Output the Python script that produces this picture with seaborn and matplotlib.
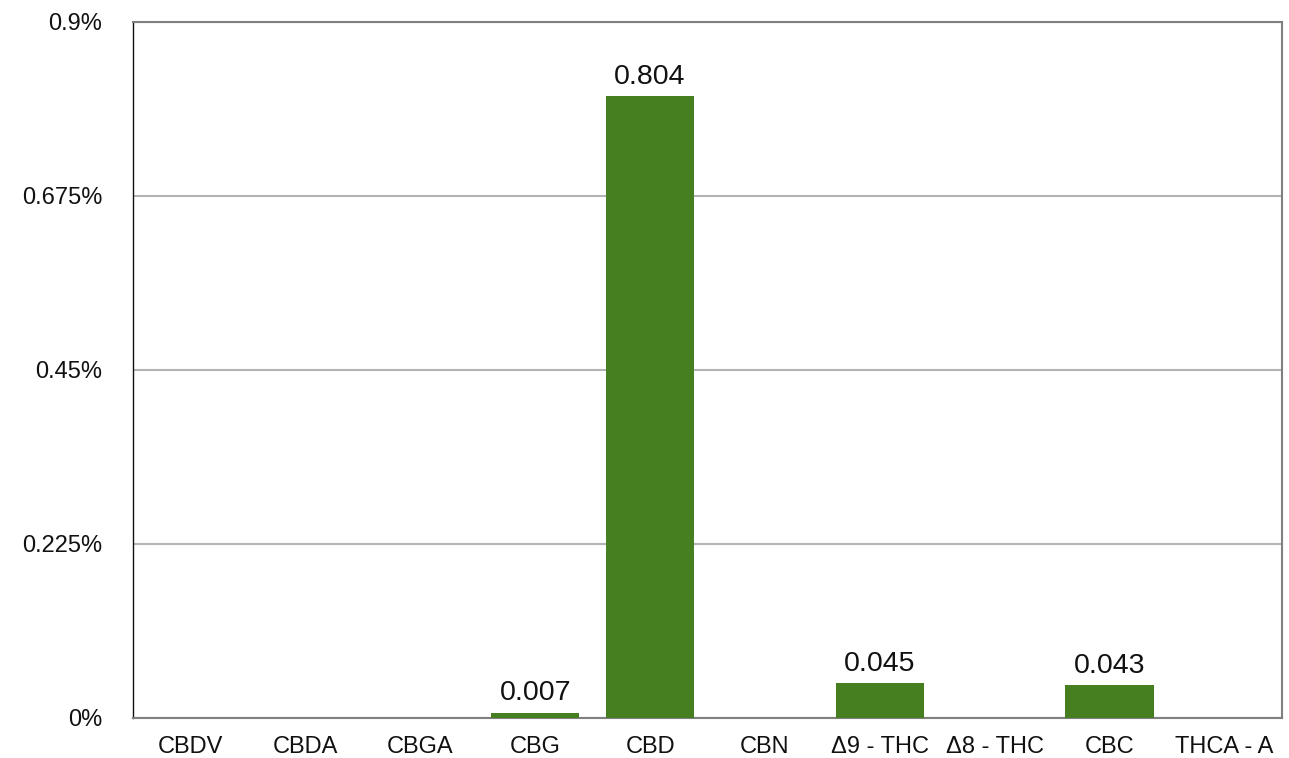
import pandas as pd
import numpy as np
import matplotlib
matplotlib.use("Agg")
import matplotlib.pyplot as plt
import seaborn as sns

compounds = ["CBDV", "CBDA", "CBGA", "CBG", "CBD", "CBN", "Δ9 - THC", "Δ8 - THC", "CBC", "THCA - A"]
percent = [0, 0, 0, 0.007, 0.804, 0, 0.045, 0, 0.043, 0]
yticks = [0, 0.225, 0.45, 0.675, 0.9]
ytick_labels = ["0%", "0.225%", "0.45%", "0.675%", "0.9%"]

df = pd.DataFrame({"compound": compounds, "percent": percent})

sns.set_theme(style="white")
plt.rcParams["font.family"] = ["Liberation Sans", "DejaVu Sans"]

fig = plt.figure(figsize=(12.89, 7.58), dpi=100)
ax = fig.add_axes([0.1032, 0.0528, 0.8914, 0.9182])

sns.barplot(data=df, x="compound", y="percent", color="#467f1f", saturation=1,
            width=0.77, linewidth=0, ax=ax, zorder=3)

ax.set_ylim(0, 0.9)
ax.set_xlim(-0.5, len(compounds) - 0.5)
ax.set_yticks(yticks)
ax.set_yticklabels(ytick_labels, fontsize=17, color="#111111")
ax.tick_params(axis="x", labelsize=17, labelcolor="#111111", pad=13, length=0)
ax.tick_params(axis="y", pad=22, length=0)
ax.set_xlabel("")
ax.set_ylabel("")

ax.yaxis.grid(True, color="#b4b4b4", linewidth=1.5, zorder=0)
for s in ["top", "right", "bottom"]:
    ax.spines[s].set_color("#808080")
    ax.spines[s].set_linewidth(1.5)
ax.spines["left"].set_color("#111111")
ax.spines["left"].set_linewidth(1.0)

for i, v in enumerate(percent):
    if v > 0:
        ax.text(i, v + 0.008, f"{v:.3f}", ha="center", va="bottom", fontsize=20.5, color="#111111")

fig.savefig("out.png", dpi=100)
